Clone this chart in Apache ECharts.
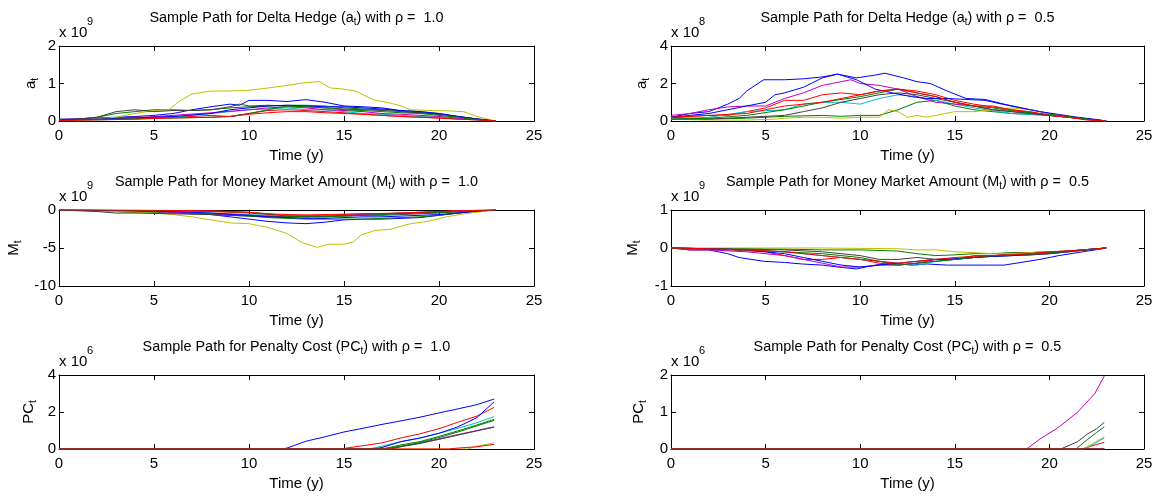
<!DOCTYPE html>
<html>
<head>
<meta charset="utf-8">
<script src="https://cdn.jsdelivr.net/npm/echarts@6/dist/echarts.min.js"></script>
<style>
html,body{margin:0;padding:0;background:#fff;}
#chart{width:1157px;height:500px;}
</style>
</head>
<body>
<div id="chart"></div>
<script>
// ---------- DATA (in displayed units) ----------
// Panel 1: Delta hedge a_t, rho = 1.0  (x 1e9)
const hedge10_b1 = [[0,0.05],[1,0.06],[2,0.08],[3,0.1],[4,0.12],[5,0.15],[6,0.2],[7,0.3],[8,0.38],[9,0.45],[9.5,0.42],[10,0.55],[11,0.55],[12,0.52],[13,0.57],[14,0.5],[15,0.4],[16,0.38],[17,0.35],[17.7,0.3],[18,0.25],[19,0.22],[20,0.18],[21,0.12],[22,0.06],[23,0]];
const hedge10_g1 = [[0,0.03],[1,0.05],[2,0.1],[3,0.2],[4,0.25],[5,0.3],[6,0.3],[7,0.28],[8,0.3],[9,0.35],[10,0.38],[11,0.4],[12,0.42],[13,0.42],[14,0.4],[15,0.35],[16,0.32],[17,0.3],[18,0.28],[19,0.25],[20,0.2],[21,0.12],[22,0.05],[23,0]];
const hedge10_r1 = [[0,0.02],[1,0.05],[2,0.05],[3,0.08],[4,0.1],[5,0.1],[6,0.12],[7,0.12],[8,0.15],[9,0.12],[10,0.2],[11,0.28],[12,0.3],[13,0.28],[14,0.25],[15,0.22],[16,0.18],[17,0.15],[18,0.12],[19,0.1],[20,0.08],[21,0.05],[22,0.03],[23,0]];
const hedge10_c1 = [[0,0.02],[2,0.03],[4,0.05],[6,0.1],[8,0.2],[10,0.3],[11,0.32],[12,0.35],[13,0.3],[14,0.3],[15,0.25],[16,0.2],[17,0.18],[18,0.15],[19,0.12],[20,0.1],[21,0.06],[22,0.03],[23,0]];
const hedge10_m1 = [[0,0.03],[2,0.05],[4,0.08],[6,0.15],[8,0.22],[10,0.3],[11,0.35],[12,0.38],[13,0.35],[14,0.3],[15,0.28],[16,0.25],[17,0.2],[18,0.18],[19,0.15],[20,0.12],[21,0.08],[22,0.04],[23,0]];
const hedge10_y1 = [[0,0.02],[1,0.03],[2,0.06],[3,0.1],[4,0.2],[5,0.28],[5.8,0.3],[6.3,0.52],[7,0.72],[8,0.8],[9,0.8],[10,0.82],[11,0.88],[12,0.95],[12.9,1.02],[13.7,1.05],[14.3,0.88],[15,0.85],[15.6,0.8],[16,0.7],[16.6,0.56],[17.5,0.47],[18,0.4],[18.5,0.3],[19.5,0.28],[20.5,0.27],[21.3,0.25],[22,0.12],[22.8,0.02],[23,0]];
const hedge10_k1 = [[0,0.02],[1,0.05],[2,0.1],[3,0.25],[4,0.3],[5,0.25],[6,0.28],[7,0.28],[8,0.3],[9,0.38],[9.5,0.45],[10,0.4],[11,0.42],[12,0.4],[13,0.38],[14,0.35],[15,0.32],[16,0.3],[17,0.28],[18,0.25],[19,0.22],[20,0.18],[21,0.12],[22,0.05],[23,0]];
const hedge10_b2 = [[0,0.03],[2,0.05],[4,0.08],[6,0.12],[8,0.2],[9,0.3],[10,0.35],[11,0.4],[12,0.42],[13,0.4],[14,0.38],[15,0.38],[16,0.35],[17,0.32],[18,0.28],[19,0.25],[20,0.2],[21,0.12],[22,0.05],[23,0]];
const hedge10_g2 = [[0,0.02],[2,0.04],[4,0.06],[6,0.08],[8,0.1],[9,0.12],[10,0.2],[11,0.3],[12,0.4],[13,0.38],[14,0.35],[15,0.3],[16,0.28],[17,0.25],[18,0.22],[19,0.2],[20,0.15],[21,0.1],[22,0.04],[23,0]];
const hedge10_r2 = [[0,0.01],[2,0.03],[4,0.05],[6,0.08],[8,0.1],[9,0.12],[10,0.18],[11,0.22],[12,0.25],[13,0.25],[14,0.22],[15,0.2],[16,0.18],[17,0.15],[18,0.12],[19,0.1],[20,0.08],[21,0.05],[22,0.03],[23,0]];

// Panel 2: Delta hedge a_t, rho = 0.5  (x 1e8)
const hedge05_b1 = [[0,0.2],[1,0.4],[2,0.5],[3,0.9],[3.6,1.2],[4,1.6],[4.9,2.2],[6,2.2],[7,2.25],[8,2.35],[8.8,2.5],[9.8,2.3],[10.8,2.45],[11.3,2.55],[12.3,2.3],[13,2.1],[13.7,2.0],[14.6,1.6],[15.6,1.2],[16.6,1.15],[17.6,0.9],[18.5,0.7],[19.5,0.5],[20.5,0.3],[21.5,0.15],[22.8,0.02],[23,0]];
const hedge05_g1 = [[0,0.2],[1,0.15],[2,0.1],[4,0.15],[6,0.25],[8,0.3],[9,0.25],[10,0.3],[11,0.3],[12,0.6],[13,1.0],[14,1.1],[15,0.8],[16,0.6],[17,0.5],[18,0.4],[19,0.35],[20,0.3],[21,0.2],[22,0.1],[23,0]];
const hedge05_r1 = [[0,0.2],[1,0.25],[2,0.3],[3,0.3],[4,0.5],[5,0.7],[6,1.1],[7,1.1],[8,1.4],[9,1.5],[10,1.4],[11,1.6],[12,1.7],[13,1.6],[14,1.4],[15,1.1],[16,0.9],[17,0.75],[18,0.6],[19,0.45],[20,0.3],[21,0.2],[22,0.08],[23,0]];
const hedge05_c1 = [[0,0.1],[1,0.15],[2,0.2],[3,0.35],[4,0.5],[5,0.55],[6,0.6],[7,0.9],[8,1.0],[9,1.0],[10,0.9],[11,1.2],[12,1.4],[13,1.3],[14,1.1],[15,0.9],[16,0.7],[17,0.55],[18,0.4],[19,0.35],[20,0.3],[21,0.2],[22,0.08],[23,0]];
const hedge05_m1 = [[0,0.3],[1,0.4],[2,0.6],[3,0.75],[4,0.8],[5,0.8],[6,1.2],[7,1.5],[8,1.9],[9,2.1],[9.5,2.2],[10,2.0],[11,1.9],[12,1.7],[13,1.3],[14,1.0],[15,0.9],[16,0.8],[17,0.6],[18,0.5],[19,0.4],[20,0.3],[21,0.2],[22,0.1],[23,0]];
const hedge05_y1 = [[0,0.1],[2,0.05],[4,0.05],[5.5,0.1],[6,0.15],[7,0.2],[8,0.2],[9,0.15],[10,0.2],[11,0.2],[11.5,0.6],[12,0.5],[12.5,0.2],[13,0.3],[13.5,0.2],[14,0.3],[15,0.5],[16,0.5],[17,0.6],[18,0.7],[19,0.6],[20,0.4],[21,0.25],[22,0.1],[23,0]];
const hedge05_k1 = [[0,0.1],[2,0.1],[4,0.2],[6,0.3],[7,0.5],[8,0.7],[9,1.0],[10,1.2],[11,1.4],[12,1.5],[13,1.4],[14,1.2],[15,1.0],[16,0.8],[17,0.6],[18,0.5],[19,0.4],[20,0.3],[21,0.2],[22,0.1],[23,0]];
const hedge05_b2 = [[0,0.2],[1,0.3],[2,0.4],[3,0.6],[4,0.8],[5,1.0],[5.5,1.4],[6,1.5],[7,1.8],[8,2.3],[8.8,2.5],[9.8,2.2],[10.8,1.7],[11.7,1.5],[12.7,1.3],[13.5,1.2],[14.6,1.2],[15.6,1.15],[16.6,1.1],[17.5,0.9],[18.5,0.7],[19.5,0.5],[20.5,0.35],[21.5,0.2],[22.5,0.08],[23,0]];
const hedge05_g2 = [[0,0.1],[2,0.15],[4,0.3],[6,0.6],[8,1.0],[10,1.3],[11,1.5],[12,1.7],[13,1.5],[14,1.3],[15,1.0],[16,0.8],[17,0.7],[18,0.55],[19,0.45],[20,0.35],[21,0.25],[22,0.1],[23,0]];
const hedge05_r2 = [[0,0.2],[2,0.3],[4,0.4],[6,0.8],[8,1.0],[10,1.4],[11,1.6],[12,1.7],[13,1.5],[14,1.3],[15,1.0],[16,0.8],[17,0.8],[18,0.6],[19,0.5],[20,0.3],[21,0.2],[22,0.05],[23,0]];

// Panel 3: Money market M_t, rho = 1.0  (x 1e9)
const money10_b1 = [[0,0],[2,-0.05],[4,-0.15],[6,-0.3],[8,-0.6],[9,-0.9],[10,-1.2],[11,-1.5],[12,-1.7],[13,-1.8],[14,-1.6],[15,-1.3],[16,-1.2],[17,-1.2],[18,-1.1],[19,-1.0],[20,-0.7],[21,-0.4],[22,-0.15],[23,0]];
const money10_g1 = [[0,0],[2,-0.1],[4,-0.3],[6,-0.4],[8,-0.6],[10,-0.8],[11,-1.0],[12,-1.1],[13,-1.2],[14,-1.2],[15,-1.2],[16,-1.2],[17,-1.1],[18,-1.0],[19,-0.9],[20,-0.7],[21,-0.4],[22,-0.2],[23,0]];
const money10_r1 = [[0,0],[2,-0.02],[4,-0.05],[6,-0.1],[8,-0.2],[10,-0.4],[11,-0.6],[12,-0.7],[13,-0.7],[14,-0.7],[15,-0.6],[16,-0.5],[17,-0.5],[18,-0.4],[19,-0.3],[20,-0.2],[21,-0.1],[22,-0.05],[23,0]];
const money10_c1 = [[0,0],[2,-0.02],[4,-0.1],[6,-0.2],[8,-0.4],[10,-0.6],[12,-0.8],[13,-0.9],[14,-0.8],[15,-0.7],[16,-0.6],[17,-0.5],[18,-0.4],[19,-0.3],[20,-0.25],[21,-0.15],[22,-0.05],[23,0]];
const money10_m1 = [[0,0],[2,-0.05],[4,-0.1],[6,-0.3],[8,-0.5],[10,-0.7],[11,-0.8],[12,-0.9],[13,-0.9],[14,-0.8],[15,-0.7],[16,-0.6],[17,-0.5],[18,-0.4],[19,-0.35],[20,-0.25],[21,-0.15],[22,-0.05],[23,0]];
const money10_y1 = [[0,0],[1,-0.02],[2,-0.1],[3,-0.2],[4,-0.3],[5,-0.4],[6,-0.6],[7,-0.9],[8,-1.3],[9,-1.7],[10,-1.8],[11,-2.3],[12,-3.1],[12.8,-4.3],[13.6,-4.9],[14.2,-4.5],[15,-4.5],[15.5,-4.2],[15.9,-3.3],[16.6,-2.7],[17.5,-2.5],[18.5,-1.8],[19.4,-1.5],[20.4,-0.9],[21.3,-0.5],[22.3,-0.2],[23,0]];
const money10_k1 = [[0,0],[2,-0.2],[3,-0.4],[4,-0.4],[6,-0.5],[8,-0.6],[10,-0.8],[12,-0.9],[13,-0.9],[14,-0.9],[15,-0.8],[16,-0.7],[17,-0.7],[18,-0.6],[19,-0.5],[20,-0.4],[21,-0.25],[22,-0.1],[23,0]];
const money10_b2 = [[0,0],[2,-0.05],[4,-0.1],[6,-0.2],[8,-0.4],[10,-0.7],[11,-0.9],[12,-1.0],[13,-1.1],[14,-1.1],[15,-1.0],[16,-0.9],[17,-0.9],[18,-0.8],[19,-0.7],[20,-0.6],[21,-0.4],[22,-0.15],[23,0]];
const money10_g2 = [[0,0],[2,-0.02],[4,-0.05],[6,-0.1],[8,-0.15],[10,-0.3],[11,-0.5],[12,-0.8],[13,-0.9],[14,-0.9],[15,-0.8],[16,-0.7],[17,-0.6],[18,-0.5],[19,-0.4],[20,-0.3],[21,-0.2],[22,-0.1],[23,0]];
const money10_r2 = [[0,0],[2,0],[4,-0.02],[6,-0.05],[8,-0.1],[10,-0.3],[11,-0.5],[12,-0.6],[13,-0.65],[14,-0.6],[15,-0.55],[16,-0.5],[17,-0.45],[18,-0.4],[19,-0.3],[20,-0.2],[21,-0.1],[22,-0.05],[23,0]];

// Panel 4: Money market M_t, rho = 0.5  (x 1e9)
const money05_b1 = [[0,0],[1,-0.05],[2,-0.05],[3,-0.15],[3.6,-0.25],[4.9,-0.35],[6,-0.38],[6.9,-0.42],[8,-0.45],[8.8,-0.5],[9.8,-0.55],[10.8,-0.45],[11.7,-0.4],[12.7,-0.45],[13.5,-0.42],[14.6,-0.45],[15.6,-0.45],[16.6,-0.45],[17.6,-0.45],[18.5,-0.38],[19.5,-0.3],[20.5,-0.2],[21.5,-0.12],[22.8,-0.02],[23,0]];
const money05_g1 = [[0,0],[2,-0.02],[4,-0.02],[6,-0.03],[8,-0.05],[10,-0.05],[12,-0.08],[13,-0.15],[14,-0.2],[15,-0.18],[16,-0.15],[17,-0.15],[18,-0.12],[19,-0.12],[20,-0.1],[21,-0.08],[22,-0.04],[23,0]];
const money05_r1 = [[0,0],[1,-0.02],[3,-0.05],[5,-0.1],[6,-0.2],[7,-0.3],[8,-0.3],[9,-0.25],[10,-0.3],[11,-0.4],[12,-0.45],[13,-0.4],[14,-0.35],[15,-0.3],[16,-0.2],[17,-0.2],[18,-0.15],[19,-0.12],[20,-0.1],[21,-0.08],[22,-0.05],[23,0]];
const money05_c1 = [[0,0],[2,-0.02],[4,-0.05],[6,-0.1],[8,-0.2],[10,-0.3],[11,-0.35],[12,-0.4],[13,-0.45],[14,-0.35],[15,-0.3],[16,-0.25],[17,-0.22],[18,-0.2],[19,-0.18],[20,-0.15],[21,-0.1],[22,-0.05],[23,0]];
const money05_m1 = [[0,0],[1,-0.05],[2,-0.05],[4,-0.1],[6,-0.2],[7,-0.3],[8,-0.4],[9,-0.5],[10,-0.5],[11,-0.45],[12,-0.45],[13,-0.4],[14,-0.3],[15,-0.3],[16,-0.25],[17,-0.2],[18,-0.2],[19,-0.18],[20,-0.15],[21,-0.1],[22,-0.05],[23,0]];
const money05_y1 = [[0,0],[4,0],[8,0],[10,-0.01],[12,-0.02],[13,-0.05],[14,-0.05],[15,-0.1],[16,-0.12],[17,-0.15],[18,-0.15],[19,-0.12],[20,-0.1],[21,-0.08],[22,-0.04],[23,0]];
const money05_k1 = [[0,0],[2,-0.02],[4,-0.03],[6,-0.05],[8,-0.1],[10,-0.2],[11,-0.3],[12,-0.3],[13,-0.25],[14,-0.3],[15,-0.3],[16,-0.25],[17,-0.22],[18,-0.2],[19,-0.18],[20,-0.15],[21,-0.1],[22,-0.05],[23,0]];
const money05_b2 = [[0,0],[2,-0.02],[4,-0.05],[6,-0.15],[7,-0.25],[8,-0.35],[9,-0.45],[10,-0.5],[11,-0.45],[12,-0.4],[13,-0.35],[14,-0.3],[15,-0.28],[16,-0.25],[17,-0.22],[18,-0.2],[19,-0.15],[20,-0.12],[21,-0.08],[22,-0.04],[23,0]];
const money05_g2 = [[0,0],[2,-0.02],[4,-0.05],[6,-0.1],[8,-0.15],[10,-0.25],[11,-0.35],[12,-0.45],[13,-0.4],[14,-0.35],[15,-0.3],[16,-0.25],[17,-0.2],[18,-0.18],[19,-0.15],[20,-0.12],[21,-0.08],[22,-0.04],[23,0]];
const money05_r2 = [[0,0],[2,-0.02],[4,-0.05],[6,-0.1],[8,-0.2],[9,-0.25],[10,-0.3],[11,-0.35],[12,-0.4],[13,-0.35],[14,-0.3],[15,-0.25],[16,-0.22],[17,-0.2],[18,-0.18],[19,-0.15],[20,-0.1],[21,-0.08],[22,-0.04],[23,0]];

// Panel 5: Penalty cost PC_t, rho = 1.0  (x 1e6)
const penalty10_b1 = [[0,0],[11.7,0],[12,0.05],[13,0.42],[14,0.66],[15,0.92],[16,1.12],[17,1.33],[18,1.52],[19,1.72],[20,1.95],[21,2.17],[22,2.4],[22.9,2.7]];
const penalty10_g1 = [[0,0],[17,0],[18,0.22],[19,0.4],[20,0.68],[21,0.98],[22,1.3],[22.9,1.6]];
const penalty10_r1 = [[0,0],[14.7,0],[15,0.03],[16,0.18],[17,0.33],[18,0.6],[19,0.82],[20,1.1],[21,1.45],[22,1.78],[22.9,2.25]];
const penalty10_c1 = [[0,0],[16.3,0],[17,0.15],[18,0.4],[19,0.58],[20,0.85],[21,1.12],[22,1.42],[22.9,1.75]];
const penalty10_m1 = [[0,0],[17.3,0],[18,0.15],[19,0.32],[20,0.55],[21,0.78],[22,1.0],[22.9,1.2]];
const penalty10_y1 = [[0,0],[21.5,0],[22,0.15],[22.9,0.33]];
const penalty10_k1 = [[0,0],[17.5,0],[18,0.12],[19,0.3],[20,0.52],[21,0.75],[22,0.98],[22.9,1.18]];
const penalty10_b2 = [[0,0],[16.5,0],[17,0.08],[18,0.4],[19,0.6],[20,0.85],[21,1.2],[22,1.7],[22.9,2.55]];
const penalty10_g2 = [[0,0],[17,0],[18,0.15],[19,0.35],[20,0.62],[21,0.92],[22,1.25],[22.9,1.55]];
const penalty10_r2 = [[0,0],[20.5,0],[21,0.05],[22,0.12],[22.9,0.25]];

// Panel 6: Penalty cost PC_t, rho = 0.5  (x 1e6)
const penalty05_b1 = [[0,0],[22.9,0]];
const penalty05_g1 = [[0,0],[21.4,0],[22,0.25],[22.5,0.45],[22.9,0.6]];
const penalty05_r1 = [[0,0],[21.7,0],[21.8,0.05],[22.5,0.12],[22.9,0.18]];
const penalty05_c1 = [[0,0],[21.9,0],[22.4,0.15],[22.9,0.3]];
const penalty05_m1 = [[0,0],[18.8,0],[19.5,0.27],[20.5,0.59],[21.5,1.0],[22.4,1.5],[22.9,1.97]];
const penalty05_y1 = [[0,0],[21.8,0],[22.4,0.18],[22.9,0.33]];
const penalty05_k1 = [[0,0],[20.6,0],[21.5,0.2],[22,0.4],[22.5,0.55],[22.9,0.72]];
const penalty05_b2 = [[0,0],[22.9,0]];
const penalty05_g2 = [[0,0],[22.9,0]];
const penalty05_r2 = [[0,0],[22.9,0]];

// Titles, axis names and tick settings
const titles = [
  'Sample Path for Delta Hedge (a{s|t}) with ρ =  1.0',
  'Sample Path for Delta Hedge (a{s|t}) with ρ =  0.5',
  'Sample Path for Money Market Amount (M{s|t}) with ρ =  1.0',
  'Sample Path for Money Market Amount (M{s|t}) with ρ =  0.5',
  'Sample Path for Penalty Cost (PC{s|t}) with ρ =  1.0',
  'Sample Path for Penalty Cost (PC{s|t}) with ρ =  0.5'
];
const yNames = ['a{s|t}','a{s|t}','M{s|t}','M{s|t}','PC{s|t}','PC{s|t}'];
const yExponents = ['9','8','9','9','6','6'];
const yMins = [0, 0, -10, -1, 0, 0];
const yMaxs = [2, 4, 0, 1, 4, 2];
const yIntervals = [1, 2, 5, 1, 2, 1];
const xName = 'Time (y)';
const xMin = 0, xMax = 25, xInterval = 5;

const panelSeries = [
  [hedge10_b1,hedge10_g1,hedge10_r1,hedge10_c1,hedge10_m1,hedge10_y1,hedge10_k1,hedge10_b2,hedge10_g2,hedge10_r2],
  [hedge05_b1,hedge05_g1,hedge05_r1,hedge05_c1,hedge05_m1,hedge05_y1,hedge05_k1,hedge05_b2,hedge05_g2,hedge05_r2],
  [money10_b1,money10_g1,money10_r1,money10_c1,money10_m1,money10_y1,money10_k1,money10_b2,money10_g2,money10_r2],
  [money05_b1,money05_g1,money05_r1,money05_c1,money05_m1,money05_y1,money05_k1,money05_b2,money05_g2,money05_r2],
  [penalty10_b1,penalty10_g1,penalty10_r1,penalty10_c1,penalty10_m1,penalty10_y1,penalty10_k1,penalty10_b2,penalty10_g2,penalty10_r2],
  [penalty05_b1,penalty05_g1,penalty05_r1,penalty05_c1,penalty05_m1,penalty05_y1,penalty05_k1,penalty05_b2,penalty05_g2,penalty05_r2]
];

// ---------- LAYOUT / STYLE ----------
const FONT = '"Liberation Sans", Arial, Helvetica, sans-serif';
const lineColors = ['#0000ff','#008000','#ff0000','#00bfbf','#bf00bf','#bfbf00','#404040','#0000ff','#008000','#ff0000'];
const colLeft = [59, 671];
const colWidth = [475, 473];
const rowTop = [46, 210, 375];
const rowHeight = [75, 76, 74];
const yNameGaps = [19, 20, 36, 29, 21, 23];

const grids = [], xAxes = [], yAxes = [], series = [], graphics = [];
const subRich = { s: { fontSize: 10, fontFamily: FONT, color: '#000', padding: [8, 0, 0, 0], verticalAlign: 'bottom' } };

for (let p = 0; p < 6; p++) {
  const col = p % 2, row = Math.floor(p / 2);
  const L = colLeft[col], W = colWidth[col], T = rowTop[row], H = rowHeight[row];
  grids.push({ left: L, top: T, width: W, height: H, show: false });
  const tick = { show: true, inside: true, length: 5, lineStyle: { color: '#000', width: 1 } };
  const line = { show: true, onZero: false, lineStyle: { color: '#000', width: 1 } };
  xAxes.push({
    type: 'value', gridIndex: p, min: xMin, max: xMax, interval: xInterval, position: 'bottom',
    axisLine: line, axisTick: tick, splitLine: { show: false },
    axisLabel: { color: '#000', fontSize: 15, fontFamily: FONT, margin: 7 },
    name: xName, nameLocation: 'middle', nameGap: 27,
    nameTextStyle: { color: '#000', fontSize: 15, fontFamily: FONT }
  });
  xAxes.push({
    type: 'value', gridIndex: p, min: xMin, max: xMax, interval: xInterval, position: 'top',
    axisLine: line, axisTick: tick, splitLine: { show: false }, axisLabel: { show: false }
  });
  yAxes.push({
    type: 'value', gridIndex: p, min: yMins[p], max: yMaxs[p], interval: yIntervals[p], position: 'left',
    axisLine: line, axisTick: tick, splitLine: { show: false },
    axisLabel: { color: '#000', fontSize: 15, fontFamily: FONT, margin: 3 },
    name: yNames[p], nameLocation: 'middle', nameRotate: 90, nameGap: yNameGaps[p],
    nameTextStyle: { color: '#000', fontSize: 15, fontFamily: FONT, rich: subRich }
  });
  yAxes.push({
    type: 'value', gridIndex: p, min: yMins[p], max: yMaxs[p], interval: yIntervals[p], position: 'right',
    axisLine: line, axisTick: tick, splitLine: { show: false }, axisLabel: { show: false }
  });
  panelSeries[p].forEach((d, i) => {
    series.push({
      type: 'line', xAxisIndex: 2 * p, yAxisIndex: 2 * p, data: d,
      showSymbol: false, symbol: 'none', silent: true, animation: false,
      lineStyle: { color: lineColors[i], width: 1 }, itemStyle: { color: lineColors[i] }
    });
  });
  // title (slightly condensed, like the original's tight type)
  graphics.push({
    type: 'text', x: L + W / 2, y: T - 28, silent: true, scaleX: 0.93,
    style: {
      text: titles[p], font: '15.5px ' + FONT, fill: '#000',
      align: 'center', verticalAlign: 'middle', textAlign: 'center', textVerticalAlign: 'middle',
      rich: { s: { fontSize: 10.5, fontFamily: FONT, fill: '#000', padding: [8, 0, 0, 0], verticalAlign: 'bottom' } }
    }
  });
  // exponent label
  graphics.push({
    type: 'text', x: L, y: T - 13.5, silent: true,
    style: { text: 'x 10', font: '15px ' + FONT, fill: '#000', align: 'left', verticalAlign: 'middle', textAlign: 'left', textVerticalAlign: 'middle' }
  });
  graphics.push({
    type: 'text', x: L + 28, y: T - 24, silent: true,
    style: { text: yExponents[p], font: '11px ' + FONT, fill: '#000', align: 'left', verticalAlign: 'middle', textAlign: 'left', textVerticalAlign: 'middle' }
  });
}

const chart = echarts.init(document.getElementById('chart'), null, { renderer: 'canvas' });
chart.setOption({
  backgroundColor: '#fff',
  animation: false,
  grid: grids,
  xAxis: xAxes,
  yAxis: yAxes,
  series: series,
  graphic: graphics
});
</script>
</body>
</html>
